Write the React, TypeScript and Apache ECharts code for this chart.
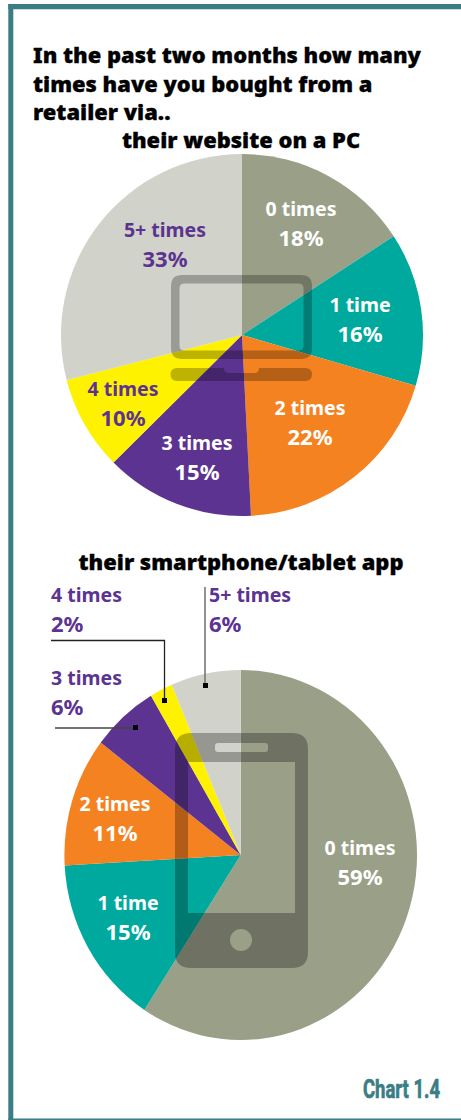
import React, { useEffect, useRef } from "react";
import * as echarts from "echarts";

const categories = ["0 times", "1 time", "2 times", "3 times", "4 times", "5+ times"];
// slice sizes as measured on the picture; the printed percentages are these, rounded
const websiteValues = [18, 15.6, 22.4, 15.2, 9.6, 33];
const appValues = [59.2, 14.9, 11.3, 6.1, 2.1, 6.4];
const sliceColors = ["#9A9F88", "#00A99D", "#F58220", "#5C3391", "#FFF200", "#D1D2C9"];
const titleLines = ["In the past two months how many", "times have you bought from a", "retailer via.."];
const websiteTitle = "their website on a PC";
const appTitle = "their smartphone/tablet app";
const chartTag = "Chart 1.4";

const FONT = "'Noto Sans', sans-serif";
const PURPLE = "#5C3391";
const FRAME = "#3A7D85";

// label anchors: x, y of the first line, align, colour
const websiteAnchors: [number, number, string, string][] = [
  [301, 208, "center", "#fff"],
  [360, 304, "center", "#fff"],
  [310, 407, "center", "#fff"],
  [197, 442, "center", "#fff"],
  [123, 388, "center", PURPLE],
  [165, 229, "center", PURPLE],
];
const appAnchors: [number, number, string, string][] = [
  [360, 847, "center", "#fff"],
  [128, 902, "center", "#fff"],
  [115, 803, "center", "#fff"],
  [51, 677, "left", PURPLE],
  [51, 594, "left", PURPLE],
  [209, 594, "left", PURPLE],
];

const rr = (x: number, y: number, w: number, h: number, r: number) =>
  `M${x + r} ${y}L${x + w - r} ${y}Q${x + w} ${y} ${x + w} ${y + r}L${x + w} ${y + h - r}Q${x + w} ${y + h} ${x + w - r} ${y + h}L${x + r} ${y + h}Q${x} ${y + h} ${x} ${y + h - r}L${x} ${y + r}Q${x} ${y} ${x + r} ${y}Z`;
// reverse winding, so that it cuts a hole
const rrHole = (x: number, y: number, w: number, h: number, r: number) =>
  `M${x + r} ${y}Q${x} ${y} ${x} ${y + r}L${x} ${y + h - r}Q${x} ${y + h} ${x + r} ${y + h}L${x + w - r} ${y + h}Q${x + w} ${y + h} ${x + w} ${y + h - r}L${x + w} ${y + r}Q${x + w} ${y} ${x + w - r} ${y}Z`;

const laptopPath =
  rr(171, 275, 141, 84, 11) + rrHole(179.5, 283.5, 124, 67, 5) +
  "M177 368L224 368Q224 373 229 373L254 373Q259 373 259 368L305.5 368Q312 368 312 374.5Q312 381 305.5 381L177 381Q170.5 381 170.5 374.5Q170.5 368 177 368Z";
const phonePath =
  rr(175, 733, 133, 235, 16) + rrHole(188, 762, 107, 151, 0) + rrHole(215, 743, 53, 9, 3) +
  "M241 929A11 11 0 0 0 241 951A11 11 0 0 0 241 929Z";

echarts.graphic.registerShape("laptopIcon", echarts.graphic.extendPath(laptopPath, {}) as any);
echarts.graphic.registerShape("phoneIcon", echarts.graphic.extendPath(phonePath, {}) as any);

const pieSeries = (values: number[], center: [number, number], radius: number) => ({
  type: "pie",
  silent: true,
  center,
  radius,
  startAngle: 90,
  clockwise: true,
  label: { show: false },
  labelLine: { show: false },
  emphasis: { disabled: true },
  data: values.map((value, i) => ({ name: categories[i], value, itemStyle: { color: sliceColors[i] } })),
});

const txt = (text: string, x: number, y: number, size: number, fill: string, align = "center", weight: any = 700, family = FONT, heavy = 0, scaleX = 1) => ({
  type: "text",
  x,
  y,
  scaleX,
  z: 20,
  silent: true,
  style: {
    text,
    fill,
    fontSize: size,
    fontWeight: weight,
    fontFamily: family,
    align,
    verticalAlign: "middle",
    ...(heavy ? { stroke: fill, lineWidth: heavy } : {}),
  },
});

const sliceLabels = (values: number[], anchors: [number, number, string, string][]) =>
  values.flatMap((v, i) => {
    const [x, y, align, color] = anchors[i];
    return [
      txt(categories[i], x, y, 19.5, color, align),
      txt(`${Math.round(v)}%`, x, y + 28.5, 22, color, align),
    ];
  });

const line = (x1: number, y1: number, x2: number, y2: number, stroke = "#222", lineWidth = 1.3) => ({
  type: "line",
  z: 15,
  silent: true,
  shape: { x1, y1, x2, y2 },
  style: { stroke, lineWidth },
});
const dot = (x: number, y: number) => ({
  type: "rect",
  z: 16,
  silent: true,
  shape: { x: x - 2.5, y: y - 2.5, width: 5, height: 5 },
  style: { fill: "#000" },
});

export default function App() {
  const mainRef = useRef<HTMLDivElement>(null);
  const appRef = useRef<HTMLDivElement>(null);
  useEffect(() => {
    const appChart = echarts.init(appRef.current!, null, { renderer: "svg" });
    appChart.setOption({
      animation: false,
      backgroundColor: "transparent",
      series: [pieSeries(appValues, [240.7, 855], 176.3)],
    });
    const main = echarts.init(mainRef.current!, null, { renderer: "svg" });
    main.setOption({
      animation: false,
      backgroundColor: "transparent",
      series: [pieSeries(websiteValues, [242, 335], 181)],
      graphic: {
        elements: [
          { type: "rect", z: 1, silent: true, shape: { x: 8.3, y: 4, width: 452.7, height: 5.3 }, style: { fill: FRAME } },
          { type: "rect", z: 1, silent: true, shape: { x: 8.3, y: 4, width: 5, height: 1116 }, style: { fill: FRAME } },
          { type: "rect", z: 1, silent: true, shape: { x: 8.3, y: 1118.6, width: 452.7, height: 1.4 }, style: { fill: FRAME } },
          { type: "laptopIcon", z: 10, silent: true, style: { fill: "#000", opacity: 0.26 } },
          { type: "phoneIcon", z: 10, silent: true, style: { fill: "#000", opacity: 0.28 } },
          line(51, 640.5, 165, 640.5),
          line(164.5, 640, 164.5, 700),
          line(55, 728, 135, 728, "#444", 1.5),
          line(205, 587, 205, 685, "#777", 1.6),
          dot(164.5, 700.5),
          dot(135.5, 727.5),
          dot(205.5, 685.5),
          txt(titleLines[0], 33, 54, 21.9, "#000", "left", 900, FONT, 0.3),
          txt(titleLines[1], 33, 83, 21.9, "#000", "left", 900, FONT, 0.3),
          txt(titleLines[2], 33, 111, 21.9, "#000", "left", 900, FONT, 0.3),
          txt(websiteTitle, 241, 139, 21.9, "#000", "center", 900, FONT, 0.3),
          txt(appTitle, 241, 561, 21.9, "#000", "center", 900, FONT, 0.3),
          ...sliceLabels(websiteValues, websiteAnchors),
          ...sliceLabels(appValues, appAnchors),
          txt(chartTag, 440, 1089, 25, FRAME, "right", 700, "Roboto, sans-serif", 0.7, 0.74),
        ],
      },
    });
    return () => {
      main.dispose();
      appChart.dispose();
    };
  }, []);
  return (
    <div style={{ position: "absolute", left: 0, top: 0, width: 461, height: 1120, background: "#fff", overflow: "hidden" }}>
      <div
        ref={appRef}
        style={{
          position: "absolute",
          left: 0,
          top: 0,
          width: 461,
          height: 1120,
          transform: `scaleY(${185 / 176.3})`,
          transformOrigin: "240.7px 855px",
        }}
      />
      <div ref={mainRef} style={{ position: "absolute", left: 0, top: 0, width: 461, height: 1120 }} />
    </div>
  );
}
